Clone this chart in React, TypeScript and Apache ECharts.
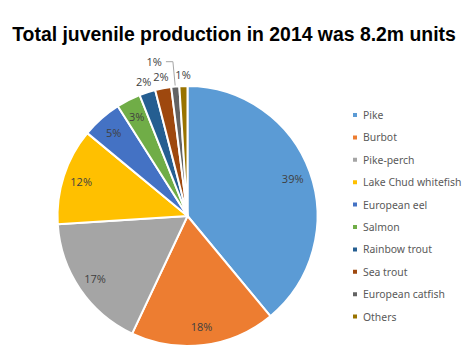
import React, { useEffect, useRef } from "react";
import * as echarts from "echarts";

const titleText = "Total juvenile production in 2014 was 8.2m units";
const categories = [
  "Pike",
  "Burbot",
  "Pike-perch",
  "Lake Chud whitefish",
  "European eel",
  "Salmon",
  "Rainbow trout",
  "Sea trout",
  "European catfish",
  "Others",
];
const shares = [39, 18, 17, 12, 5, 3, 2, 2, 1, 1];
const colors = [
  "#5B9BD5",
  "#ED7D31",
  "#A5A5A5",
  "#FFC000",
  "#4472C4",
  "#70AD47",
  "#255E91",
  "#9E480E",
  "#636363",
  "#997300",
];

const CX = 187.5;
const CY = 216;
const R = 130;

export default function App() {
  const ref = useRef<HTMLDivElement>(null);
  useEffect(() => {
    if (!ref.current) return;
    const chart = echarts.init(ref.current, undefined, { renderer: "svg" });
    const total = shares.reduce((a, b) => a + b, 0);
    const midFrac = (i: number) => {
      let s = 0;
      for (let k = 0; k < i; k++) s += shares[k];
      return (s + shares[i] / 2) / total;
    };
    const labelFont = {
      fontFamily: "Open Sans, Noto Sans, sans-serif",
      fontSize: 11,
      color: "#404040",
    };
    const data = categories.map((name, i) => {
      const item: any = { name, value: shares[i], itemStyle: { color: colors[i] } };
      if (name === "European catfish") {
        item.label = { position: "outside", distanceToLabelLine: 4 };
        item.labelLine = { show: true, length: 25, length2: 7 };
      }
      return item;
    });
    chart.setOption({
      animation: false,
      title: {
        text: titleText,
        left: "center",
        top: 19,
        textStyle: {
          fontFamily: "Liberation Sans, Arial, sans-serif",
          fontWeight: "bold",
          fontSize: 19.4,
          color: "#000000",
        },
      },
      legend: {
        orient: "vertical",
        left: 346,
        top: 103,
        itemWidth: 6,
        itemHeight: 6,
        itemGap: 8.4,
        icon: "rect",
        data: categories,
        textStyle: {
          fontFamily: "Noto Sans, Open Sans, sans-serif",
          fontSize: 10.4,
          color: "#595959",
          lineHeight: 14,
        },
      },
      series: [
        {
          type: "pie",
          center: [CX, CY],
          radius: R,
          startAngle: 90,
          clockwise: true,
          avoidLabelOverlap: false,
          itemStyle: { borderColor: "#ffffff", borderWidth: 2 },
          label: {
            show: true,
            position: "inside",
            formatter: (p: any) => `${p.value}%`,
            ...labelFont,
          },
          labelLine: { show: false, lineStyle: { color: "#A6A6A6", width: 1 } },
          labelLayout: (p: any) => {
            const i = p.dataIndex;
            if (categories[i] === "European catfish") return {};
            const f = shares[i] / total;
            const k = f >= 0.03 ? 0.86 : 1.09;
            const a = midFrac(i) * 2 * Math.PI;
            return {
              x: CX + k * R * Math.sin(a),
              y: CY - k * R * Math.cos(a),
              align: "center",
              verticalAlign: "middle",
            };
          },
          data,
        },
      ],
    });
    return () => chart.dispose();
  }, []);
  return (
    <div
      ref={ref}
      style={{ position: "fixed", left: 0, top: 0, width: 468, height: 360, background: "#fff" }}
    />
  );
}
